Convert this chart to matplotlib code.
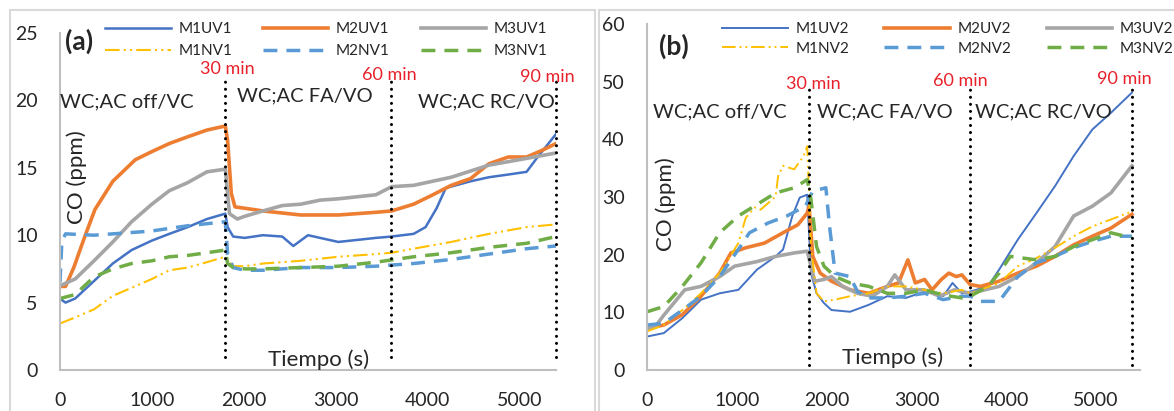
import matplotlib
matplotlib.use("Agg")
import matplotlib.pyplot as plt
from matplotlib.patches import Rectangle

plt.rcParams['font.family'] = ['Lato', 'DejaVu Sans']

# ---- panel (a) data: CO (ppm) vs tiempo (s) ----
t_m1uv1 = [0, 60, 165, 370, 575, 780, 1000, 1190, 1390, 1600, 1800, 1825, 1885, 2010, 2210, 2420, 2540,
           2700, 3030, 3440, 3610, 3850, 3980, 4100, 4200, 4470, 4670, 4880, 5080, 5200, 5400]
m1uv1 = [5.3, 5.0, 5.3, 6.6, 7.9, 8.9, 9.6, 10.1, 10.6, 11.2, 11.6, 10.6, 9.9, 9.8, 10.0, 9.9, 9.2,
         10.0, 9.5, 9.8, 9.9, 10.1, 10.6, 12.0, 13.5, 14.0, 14.3, 14.5, 14.7, 15.8, 17.5]

t_m2uv1 = [0, 60, 150, 270, 380, 575, 820, 1000, 1190, 1390, 1600, 1800, 1825, 1865, 1905, 2010, 2210,
           2620, 3030, 3440, 3610, 3850, 4060, 4260, 4470, 4670, 4880, 5080, 5250, 5400]
m2uv1 = [6.2, 6.2, 7.6, 9.9, 11.9, 14.0, 15.6, 16.2, 16.8, 17.3, 17.8, 18.1, 17.0, 13.1, 12.1, 12.0, 11.8,
         11.5, 11.5, 11.7, 11.8, 12.3, 13.0, 13.7, 14.2, 15.3, 15.8, 15.8, 16.3, 16.8]

t_m3uv1 = [0, 165, 370, 575, 780, 1000, 1190, 1390, 1600, 1800, 1845, 1930, 2010, 2210, 2420, 2620,
           2830, 3030, 3440, 3610, 3850, 4260, 4670, 5080, 5400]
m3uv1 = [6.25, 6.75, 8.1, 9.5, 11.0, 12.3, 13.3, 13.9, 14.7, 14.9, 11.6, 11.2, 11.4, 11.8, 12.2, 12.3,
         12.6, 12.7, 13.0, 13.6, 13.7, 14.3, 15.2, 15.7, 16.1]

t_m1nv1 = [0, 165, 370, 575, 780, 1000, 1190, 1390, 1600, 1800, 1885, 2010, 2210, 2620, 3030, 3440,
           3610, 3850, 4260, 4670, 5080, 5400]
m1nv1 = [3.45, 3.9, 4.5, 5.5, 6.1, 6.75, 7.4, 7.6, 8.0, 8.4, 7.7, 7.7, 7.9, 8.1, 8.4, 8.6,
         8.7, 9.0, 9.5, 10.1, 10.6, 10.8]

t_m2nv1 = [0, 20, 60, 370, 575, 985, 1390, 1800, 1825, 1885, 2010, 2210, 2620, 3030, 3440, 3850,
           4260, 4670, 5080, 5400]
m2nv1 = [6.5, 9.5, 10.1, 10.0, 10.1, 10.3, 10.7, 11.0, 8.6, 7.6, 7.4, 7.4, 7.6, 7.6, 7.7, 7.9,
         8.2, 8.6, 9.0, 9.2]

t_m3nv1 = [0, 165, 370, 575, 780, 1000, 1190, 1390, 1600, 1800, 1825, 1885, 2010, 2210, 2620, 3030,
           3440, 3850, 4260, 4670, 5080, 5400]
m3nv1 = [5.3, 5.6, 6.9, 7.5, 7.9, 8.1, 8.4, 8.5, 8.7, 8.9, 7.9, 7.6, 7.5, 7.5, 7.6, 7.7,
         8.0, 8.4, 8.7, 9.1, 9.4, 9.9]

# ---- panel (b) data ----
t_m1uv2 = [0, 187, 394, 602, 809, 1017, 1224, 1432, 1515, 1618, 1701, 1784, 1826, 1888, 1971, 2054,
           2261, 2469, 2676, 2884, 3091, 3299, 3402, 3506, 3600, 3797, 3921, 4129, 4336, 4544, 4751,
           4959, 5166, 5400]
m1uv2 = [5.8, 6.4, 9.0, 12.2, 13.3, 13.9, 17.4, 19.7, 20.9, 26.7, 29.9, 30.4, 16.8, 13.3, 11.6, 10.4,
         10.1, 11.3, 12.8, 12.5, 13.6, 12.8, 15.1, 13.3, 13.6, 14.5, 17.4, 22.6, 27.2, 31.9, 37.1,
         41.7, 44.6, 48.1]

t_m2uv2 = [0, 187, 394, 602, 809, 934, 1100, 1307, 1515, 1681, 1784, 1805, 1846, 1929, 2054, 2261,
           2469, 2676, 2801, 2905, 2988, 3091, 3174, 3278, 3361, 3444, 3506, 3600, 3714, 3921, 4129,
           4336, 4544, 4751, 4959, 5166, 5400]
m2uv2 = [7.2, 7.8, 9.6, 12.8, 16.8, 20.3, 21.2, 22.0, 23.8, 25.2, 27.2, 28.4, 19.7, 16.8, 15.4, 13.9,
         13.3, 14.5, 15.1, 19.1, 15.1, 15.7, 13.9, 15.7, 16.8, 16.2, 16.5, 14.8, 14.5, 15.4, 16.8,
         18.0, 19.7, 21.7, 23.2, 24.6, 27.0]

t_m3uv2 = [0, 90, 187, 420, 602, 809, 975, 1224, 1432, 1639, 1784, 1826, 1867, 1971, 2054, 2178,
           2344, 2510, 2676, 2759, 2884, 3091, 3257, 3423, 3600, 3921, 4129, 4336, 4544, 4751, 4959,
           5166, 5400]
m3uv2 = [7.2, 7.5, 9.5, 13.9, 14.5, 16.2, 18.0, 18.8, 19.7, 20.3, 20.6, 18.0, 15.4, 15.7, 16.2, 14.5,
         13.3, 12.8, 14.5, 16.5, 13.9, 13.9, 12.8, 13.9, 13.3, 14.5, 16.2, 18.6, 21.4, 26.7, 28.4,
         30.7, 35.4]

t_m1nv2 = [0, 187, 394, 602, 809, 1017, 1100, 1200, 1266, 1432, 1460, 1515, 1639, 1743, 1784, 1826,
           1888, 1971, 2095, 2261, 2469, 2676, 2884, 3091, 3299, 3506, 3600, 3921, 4129, 4336, 4544,
           4751, 4959, 5166, 5400]
m1nv2 = [6.7, 7.8, 10.4, 13.3, 16.8, 22.0, 26.4, 28.2, 27.8, 30.1, 33.6, 35.4, 34.8, 37.1, 38.8, 21.4,
         13.3, 11.9, 12.2, 12.8, 13.3, 14.5, 14.5, 13.9, 13.3, 13.9, 13.3, 15.1, 18.0, 19.4, 21.2,
         23.2, 24.9, 26.1, 27.5]

t_m2nv2 = [0, 187, 394, 602, 809, 1017, 1141, 1349, 1556, 1764, 1846, 1992, 2033, 2095, 2261, 2344,
           2469, 2676, 2884, 3091, 3299, 3506, 3600, 3714, 3921, 4129, 4336, 4544, 4751, 4959, 5166,
           5400]
m2nv2 = [7.8, 8.1, 10.4, 12.8, 16.2, 20.9, 23.8, 25.5, 26.7, 28.4, 31.0, 31.6, 24.9, 16.8, 16.2, 13.6,
         12.5, 12.5, 12.8, 13.3, 12.2, 12.8, 12.8, 11.9, 11.9, 16.2, 18.6, 19.7, 21.2, 22.3, 23.2,
         23.2]

t_m3nv2 = [0, 187, 394, 602, 809, 1017, 1224, 1432, 1639, 1784, 1826, 1888, 1971, 2095, 2261, 2469,
           2676, 2884, 3091, 3299, 3506, 3600, 3797, 3921, 4046, 4336, 4544, 4751, 4959, 5166, 5400]
m3nv2 = [10.1, 11.0, 14.5, 18.6, 23.8, 26.7, 28.7, 30.7, 31.6, 33.0, 29.6, 21.4, 18.0, 16.2, 15.1, 14.5,
         13.3, 13.3, 13.9, 13.0, 12.5, 12.8, 14.5, 16.8, 19.7, 19.1, 19.7, 21.4, 22.6, 23.8, 22.9]

phase_t = [1800, 3600, 5400]
phase_min = ["30 min", "60 min", "90 min"]
phase_names = ["WC;AC off/VC", "WC;AC FA/VO", "WC;AC RC/VO"]

# excel-like colours
BLUE, ORANGE, GRAY = '#4472C4', '#ED7D31', '#A5A5A5'
YELLOW, LBLUE, GREEN = '#FFC000', '#5B9BD5', '#70AD47'
TXT = '#262626'
RED = '#E8202A'
DOTS = (0, (0.01, 2.3))
DASHDOTDOT = (0, (7, 2, 1, 2, 1, 2))
DASH = (0, (4, 2.6))

fig = plt.figure(figsize=(11.74, 4.11), dpi=100)

# chart-area borders
fig.patches.append(Rectangle((10 / 1174, -0.05), 585 / 1174, 1.05 - 10 / 411, transform=fig.transFigure,
                             fill=False, ec='#D9D9D9', lw=1.5))
fig.patches.append(Rectangle((599 / 1174, -0.05), 0.6, 1.05 - 10 / 411, transform=fig.transFigure,
                             fill=False, ec='#D9D9D9', lw=1.5))

axA = fig.add_axes([60 / 1174, 41 / 411, 496 / 1174, 337 / 411])
axB = fig.add_axes([647 / 1174, 41 / 411, 493 / 1174, 346 / 411])


def style_axes(ax, ymax, ystep, xmax):
    ax.set_xlim(0, xmax)
    ax.set_ylim(0, ymax)
    ax.set_xticks(range(0, 5001, 1000))
    ax.set_yticks(range(0, ymax + 1, ystep))
    for s in ['top', 'right']:
        ax.spines[s].set_visible(False)
    for s in ['left', 'bottom']:
        ax.spines[s].set_color('#BFBFBF')
        ax.spines[s].set_linewidth(1.5)
    ax.tick_params(length=0, labelsize=14, colors=TXT, pad=16)
    ax.patch.set_alpha(0)


def draw_series(ax, series):
    lines = []
    for (t, v, lab, col, lw, ls) in series:
        ln, = ax.plot(t, v, color=col, lw=lw, ls=ls, label=lab, solid_joinstyle='round')
        lines.append(ln)
    # legend: row 1 = UV series, row 2 = NV series
    order = [0, 3, 1, 4, 2, 5]
    return [lines[i] for i in order]


# ---------------- panel (a) ----------------
series_a = [
    (t_m1uv1, m1uv1, 'M1UV1', BLUE, 1.8, '-'),
    (t_m2uv1, m2uv1, 'M2UV1', ORANGE, 2.6, '-'),
    (t_m3uv1, m3uv1, 'M3UV1', GRAY, 2.6, '-'),
    (t_m1nv1, m1nv1, 'M1NV1', YELLOW, 1.5, DASHDOTDOT),
    (t_m2nv1, m2nv1, 'M2NV1', LBLUE, 2.5, DASH),
    (t_m3nv1, m3nv1, 'M3NV1', GREEN, 2.5, DASH),
]
style_axes(axA, 25, 5, 5400)
hA = draw_series(axA, series_a)
for xt, top in zip(phase_t, [21.7, 21.5, 21.5]):
    axA.plot([xt, xt], [1.0, top], color='black', lw=2.2, ls=DOTS, dash_capstyle='round', clip_on=False)
for x, lab, y in zip([1820, 3590, 5300], phase_min, [22.3, 21.9, 21.7]):
    axA.text(x, y, lab, color=RED, fontsize=13, ha='center', va='center', clip_on=False)
for x, lab, y in zip([0, 1930, 3900], phase_names, [19.9, 20.3, 19.9]):
    axA.text(x, y, lab, color=TXT, fontsize=14.5, ha='left', va='center')
axA.text(55, 24.4, '(a)', fontsize=19, fontweight='bold', color=TXT, ha='left', va='center', clip_on=False)
axA.text(185, 14.3, 'CO (ppm)', fontsize=16, rotation=90, color=TXT, ha='center', va='center')
axA.text(2810, 0.75, 'Tiempo (s)', fontsize=16, color=TXT, ha='center', va='center')
fig.legend(hA, [h.get_label() for h in hA], ncol=3, loc='upper left',
           bbox_to_anchor=(105 / 1174, 1 - 22 / 411), frameon=False, fontsize=11,
           handlelength=4.3, handletextpad=0.5, columnspacing=2.0, borderpad=0,
           borderaxespad=0, labelspacing=0.55, labelcolor=TXT)

# ---------------- panel (b) ----------------
series_b = [
    (t_m1uv2, m1uv2, 'M1UV2', BLUE, 1.4, '-'),
    (t_m2uv2, m2uv2, 'M2UV2', ORANGE, 2.6, '-'),
    (t_m3uv2, m3uv2, 'M3UV2', GRAY, 2.6, '-'),
    (t_m1nv2, m1nv2, 'M1NV2', YELLOW, 1.4, DASHDOTDOT),
    (t_m2nv2, m2nv2, 'M2NV2', LBLUE, 2.5, DASH),
    (t_m3nv2, m3nv2, 'M3NV2', GREEN, 2.5, DASH),
]
style_axes(axB, 60, 10, 5490)
hB = draw_series(axB, series_b)
for xt in phase_t:
    axB.plot([xt, xt], [0.9, 48.7], color='black', lw=2.2, ls=DOTS, dash_capstyle='round', clip_on=False)
for x, lab, y in zip([1850, 3485, 5320], phase_min, [49.6, 50.1, 50.4]):
    axB.text(x, y, lab, color=RED, fontsize=13, ha='center', va='center', clip_on=False)
for x, lab in zip([67, 1893, 3650], phase_names):
    axB.text(x, 44.7, lab, color=TXT, fontsize=14.5, ha='left', va='center')
axB.text(135, 56.2, '(b)', fontsize=19, fontweight='bold', color=TXT, ha='left', va='center', clip_on=False)
axB.text(210, 28.7, 'CO (ppm)', fontsize=16, rotation=90, color=TXT, ha='center', va='center')
axB.text(2740, 2.1, 'Tiempo (s)', fontsize=16, color=TXT, ha='center', va='center')
fig.legend(hB, [h.get_label() for h in hB], ncol=3, loc='upper left',
           bbox_to_anchor=(722 / 1174, 1 - 22 / 411), frameon=False, fontsize=11,
           handlelength=4.3, handletextpad=0.5, columnspacing=2.3, borderpad=0,
           borderaxespad=0, labelspacing=0.38, labelcolor=TXT)

fig.savefig('out.png', dpi=100)
